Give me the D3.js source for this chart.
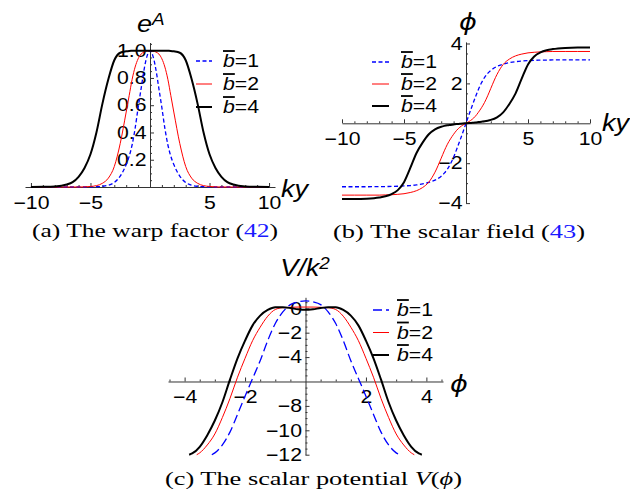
<!DOCTYPE html>
<html>
<head>
<meta charset="utf-8">
<script src="https://cdn.jsdelivr.net/npm/d3@7"></script>
<style>
  body { margin: 0; background: #fff; }
  svg { display: block; }
  .axis path, .axis line { stroke: #333; stroke-width: 1; }
  .axis text { font-family: "Liberation Sans", Arial, sans-serif; font-size: 18px; fill: #000; }
  .lbl { font-family: "Liberation Sans", Arial, sans-serif; font-style: italic; font-size: 23px; }
  .leg { font-family: "Liberation Sans", Arial, sans-serif; font-size: 18px; }
  .cap { font-family: "Liberation Serif", "Times New Roman", serif; font-size: 19px; }
</style>
</head>
<body>
<svg id="fig" width="630" height="495"></svg>
<script>
// ky samples shared by panels (a) and (b)
var kyA = [-10,-9,-8,-7,-6.5,-6,-5.5,-5,-4.5,-4,-3.5,-3,-2.5,-2,-1.75,-1.5,-1.25,-1,-0.75,-0.5,-0.25,
  0,0.25,0.5,0.75,1,1.25,1.5,1.75,2,2.5,3,3.5,4,4.5,5,5.5,6,6.5,7,8,9,10]

// (a) warp factor e^A
var warp1 = [0,0,0,0,0,0,0,0.001,0.002,0.005,0.013,0.033,0.08,0.165,0.225,0.31,0.43,0.58,0.72,0.86,0.96,
  1,0.96,0.86,0.72,0.58,0.43,0.31,0.225,0.165,0.08,0.033,0.013,0.005,0.002,0.001,0,0,0,0,0,0,0]
var warp2 = [0,0,0,0,0,0,0.001,0.004,0.01,0.027,0.065,0.15,0.32,0.55,0.67,0.79,0.88,0.94,0.975,0.99,0.998,
  1,0.998,0.99,0.975,0.94,0.88,0.79,0.67,0.55,0.32,0.15,0.065,0.027,0.01,0.004,0.001,0,0,0,0,0,0]
var warp4 = [0,0.001,0.004,0.018,0.036,0.075,0.14,0.24,0.40,0.61,0.79,0.93,0.985,0.995,0.998,0.999,1,1,1,1,1,
  1,1,1,1,1,1,0.999,0.998,0.995,0.985,0.93,0.79,0.61,0.40,0.24,0.14,0.075,0.036,0.018,0.004,0.001,0]

// (b) scalar field phi
var field1 = [-3.18,-3.18,-3.18,-3.175,-3.17,-3.165,-3.155,-3.14,-3.12,-3.09,-3.04,-2.96,-2.85,-2.65,-2.5,-2.3,-2.03,-1.7,-1.3,-0.88,-0.45,
  0,0.45,0.88,1.3,1.7,2.03,2.3,2.5,2.65,2.85,2.96,3.04,3.09,3.12,3.14,3.155,3.165,3.17,3.175,3.18,3.18,3.18]
var field2 = [-3.6,-3.6,-3.6,-3.6,-3.59,-3.58,-3.56,-3.53,-3.47,-3.38,-3.22,-2.95,-2.45,-1.75,-1.38,-1.05,-0.78,-0.55,-0.35,-0.2,-0.09,
  0,0.09,0.2,0.35,0.55,0.78,1.05,1.38,1.75,2.45,2.95,3.22,3.38,3.47,3.53,3.56,3.58,3.59,3.6,3.6,3.6,3.6]
var field4 = [-3.8,-3.8,-3.78,-3.72,-3.66,-3.55,-3.35,-2.95,-2.25,-1.5,-0.97,-0.55,-0.3,-0.17,-0.13,-0.1,-0.08,-0.06,-0.04,-0.025,-0.01,
  0,0.01,0.025,0.04,0.06,0.08,0.1,0.13,0.17,0.3,0.55,0.97,1.5,2.25,2.95,3.35,3.55,3.66,3.72,3.78,3.8,3.8]

// (c) potential V(phi)
var phi1 = [-3.1,-3,-2.75,-2.5,-2.25,-2,-1.75,-1.5,-1.25,-1,-0.75,-0.5,-0.25,0,0.25,0.5,0.75,1,1.25,1.5,1.75,2,2.25,2.5,2.75,3,3.1]
var pot1 = [-12,-11.85,-11.2,-10.15,-8.7,-7.2,-5.75,-4.3,-2.65,-1.25,-0.3,0.3,0.52,0.6,0.52,0.3,-0.3,-1.25,-2.65,-4.3,-5.75,-7.2,-8.7,-10.15,-11.2,-11.85,-12]
var phi2 = [-3.6,-3.5,-3.25,-3,-2.75,-2.5,-2.25,-2,-1.75,-1.5,-1.25,-1,-0.75,-0.5,-0.25,0,0.25,0.5,0.75,1,1.25,1.5,1.75,2,2.25,2.5,2.75,3,3.25,3.5,3.6]
var pot2 = [-12,-11.85,-11.2,-10.3,-8.95,-7.4,-5.65,-4.1,-2.65,-1.55,-0.65,-0.1,0.05,0.08,0.1,0.1,0.1,0.08,0.05,-0.1,-0.65,-1.55,-2.65,-4.1,-5.65,-7.4,-8.95,-10.3,-11.2,-11.85,-12]
var phi4 = [-3.85,-3.75,-3.5,-3.25,-3,-2.75,-2.5,-2.25,-2,-1.75,-1.5,-1.25,-1,-0.75,-0.5,-0.25,0,0.25,0.5,0.75,1,1.25,1.5,1.75,2,2.25,2.5,2.75,3,3.25,3.5,3.75,3.85]
var pot4 = [-12,-11.9,-11.35,-10.4,-9.2,-7.7,-5.85,-4.1,-2.65,-1.4,-0.6,-0.14,0.08,0.08,0.02,-0.08,-0.13,-0.08,0.02,0.08,0.08,-0.14,-0.6,-1.4,-2.65,-4.1,-5.85,-7.7,-9.2,-10.4,-11.35,-11.9,-12]

var bValues = ["1", "2", "4"]

var xTicksA = [-10, -5, 5, 10]
var yTicksA = [0.2, 0.4, 0.6, 0.8, 1.0]
var xTicksB = [-10, -5, 5, 10]
var yTicksB = [-4, -2, 2, 4]
var xTicksC = [-4, -2, 2, 4]
var yTicksC = [0, -2, -4, -8, -10, -12]

var svg = d3.select("#fig")
var stretch = "scale(1.18,1)"

var styles = [
  { color: "#0000ff", width: 1.3 },
  { color: "#ff0000", width: 1 },
  { color: "#000000", width: 2 }
]

function minorTicks(lo, hi, step, major) {
  var out = []
  for (var v = lo; v <= hi + 1e-9; v += step) {
    var r = Math.round(v * 100) / 100
    if (major.indexOf(r) < 0 && r !== 0) out.push(r)
  }
  return out
}

function drawPanel(p) {
  var x = d3.scaleLinear().domain(p.xDom).range(p.xRange)
  var y = d3.scaleLinear().domain(p.yDom).range(p.yRange)
  var g = svg.append("g")

  // minor ticks
  g.append("g").attr("class", "axis")
    .attr("transform", "translate(0," + y(p.xAt) + ")")
    .call(d3.axisBottom(x).tickValues(p.xMinor).tickSize(-2).tickSizeOuter(0).tickFormat(""))
    .select(".domain").remove()
  g.append("g").attr("class", "axis")
    .attr("transform", "translate(" + x(p.yAt) + ",0)")
    .call(d3.axisLeft(y).tickValues(p.yMinor).tickSize(-2).tickSizeOuter(0).tickFormat(""))
    .select(".domain").remove()

  var gx = g.append("g").attr("class", "axis")
    .attr("transform", "translate(0," + y(p.xAt) + ")")
    .call(d3.axisBottom(x).tickValues(p.xTicks).tickSize(-4).tickSizeOuter(0).tickPadding(9).tickFormat(d3.format("")))
  gx.selectAll("text").attr("transform", stretch)

  var gy = g.append("g").attr("class", "axis")
    .attr("transform", "translate(" + x(p.yAt) + ",0)")
    .call(d3.axisLeft(y).tickValues(p.yTicks).tickSize(-4).tickSizeOuter(0).tickPadding(3).tickFormat(p.yFmt))
  gy.selectAll("text").attr("transform", stretch)

  var line = d3.line()
    .x(function(d) { return x(d[0]) })
    .y(function(d) { return y(d[1]) })
    .curve(d3.curveMonotoneX)

  p.series.forEach(function(s, i) {
    var pts = s.xs.map(function(v, j) { return [v, s.ys[j]] })
    g.append("path")
      .attr("d", line(pts))
      .attr("fill", "none")
      .attr("stroke", styles[i].color)
      .attr("stroke-width", styles[i].width)
      .attr("stroke-linejoin", "round")
      .attr("stroke-dasharray", i === 0 ? p.dash : null)
  })

  // legend
  bValues.forEach(function(b, i) {
    var ly = p.leg.y + i * p.leg.dy
    g.append("line")
      .attr("x1", p.leg.x1).attr("x2", p.leg.x2)
      .attr("y1", ly).attr("y2", ly)
      .attr("stroke", styles[i].color)
      .attr("stroke-width", styles[i].width)
      .attr("stroke-dasharray", i === 0 ? p.dash : null)
    var t = g.append("g").attr("transform", "translate(" + p.leg.tx + "," + ly + ")")
      .append("text").attr("class", "leg").attr("dy", "0.36em").attr("transform", stretch)
    t.append("tspan").style("font-style", "italic").style("text-decoration", "overline").text("b")
    t.append("tspan").text("=" + b)
  })
  return g
}

function label(x, y, parts, anchor) {
  var t = svg.append("g").attr("transform", "translate(" + x + "," + y + ")")
    .append("text").attr("class", "lbl").attr("transform", stretch)
    .attr("text-anchor", anchor || "start")
  parts.forEach(function(p) {
    var ts = t.append("tspan").text(p.t)
    if (p.sup) ts.attr("dy", "-0.45em").style("font-size", "16px")
    if (p.font) ts.style("font-family", p.font)
  })
}

// (a)
drawPanel({
  xDom: [-10.5, 10.5], xRange: [25, 275],
  yDom: [0, 1.06], yRange: [187, 42.5],
  xAt: 0, yAt: 0,
  xTicks: xTicksA, xMinor: minorTicks(-10, 10, 1, xTicksA),
  yTicks: yTicksA, yMinor: minorTicks(0.05, 1.05, 0.05, yTicksA), yFmt: d3.format(".1f"),
  dash: "4,2.5",
  series: [{ xs: kyA, ys: warp1 }, { xs: kyA, ys: warp2 }, { xs: kyA, ys: warp4 }],
  leg: { x1: 196, x2: 212, tx: 223, y: 61, dy: 23 }
})
label(137, 32, [{ t: "e" }, { t: "A", sup: true }])
label(281, 197, [{ t: "ky" }])

// (b)
drawPanel({
  xDom: [-10, 10], xRange: [342, 590],
  yDom: [-4, 4.08], yRange: [203.1, 41.9],
  xAt: 0, yAt: 0,
  xTicks: xTicksB, xMinor: minorTicks(-10, 10, 1, xTicksB),
  yTicks: yTicksB, yMinor: minorTicks(-4, 4, 0.5, yTicksB), yFmt: d3.format(""),
  dash: "4,2.5",
  series: [{ xs: kyA, ys: field1 }, { xs: kyA, ys: field2 }, { xs: kyA, ys: field4 }],
  leg: { x1: 372, x2: 389, tx: 401, y: 62, dy: 22 }
})
label(468, 30, [{ t: "\u03d5", font: "DejaVu Sans" }], "middle")
label(602, 131, [{ t: "ky" }])

// (c)
drawPanel({
  xDom: [-4.55, 4.55], xRange: [168, 443],
  yDom: [-12, 0.9], yRange: [454.7, 297.3],
  xAt: -6, yAt: 0,
  xTicks: xTicksC, xMinor: minorTicks(-4.5, 4.5, 0.5, xTicksC),
  yTicks: yTicksC, yMinor: minorTicks(-12, 0.5, 0.5, yTicksC.concat([-6])), yFmt: d3.format(""),
  dash: "9,4",
  series: [{ xs: phi1, ys: pot1 }, { xs: phi2, ys: pot2 }, { xs: phi4, ys: pot4 }],
  leg: { x1: 373, x2: 389, tx: 397, y: 310, dy: 22.5 }
})
label(305, 276, [{ t: "V/k" }, { t: "2", sup: true }], "middle")
label(450, 392, [{ t: "\u03d5", font: "DejaVu Sans" }])

// captions
function caption(x, y, len, parts) {
  var t = svg.append("text").attr("class", "cap")
    .attr("x", x).attr("y", y)
    .attr("textLength", len).attr("lengthAdjust", "spacingAndGlyphs")
  parts.forEach(function(p) {
    var ts = t.append("tspan").text(p.t)
    if (p.blue) ts.attr("fill", "#1a1aff")
    if (p.it) ts.style("font-style", "italic")
  })
}
caption(32, 237, 246, [{ t: "(a) The warp factor (" }, { t: "42", blue: true }, { t: ")" }])
caption(333, 238, 252, [{ t: "(b) The scalar field (" }, { t: "43", blue: true }, { t: ")" }])
caption(165, 485, 297, [{ t: "(c) The scalar potential " }, { t: "V", it: true }, { t: "(" }, { t: "\u03d5", it: true }, { t: ")" }])
</script>
</body>
</html>
